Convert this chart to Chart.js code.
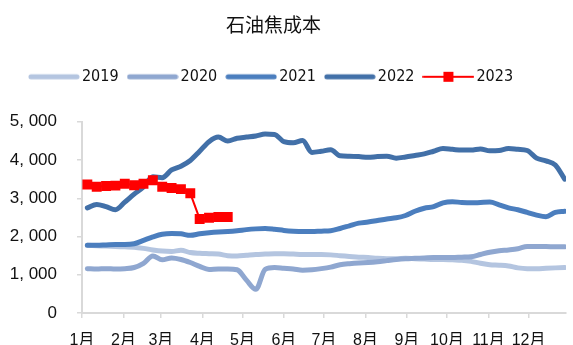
<!DOCTYPE html>
<html>
<head>
<meta charset="utf-8">
<title>石油焦成本</title>
<script src="https://cdn.jsdelivr.net/npm/chart.js@4.4.0/dist/chart.umd.min.js"></script>
<style>
  html, body { margin: 0; padding: 0; background: #fff; }
</style>
</head>
<body>
<canvas id="cokeChart" width="573" height="345"></canvas>
<script>
// Month axis: tick positions are the first day of each month
const monthLabels = ['1月', '2月', '3月', '4月', '5月', '6月', '7月', '8月', '9月', '10月', '11月', '12月'];
const monthStartDays = [1, 32, 60, 91, 121, 152, 182, 213, 244, 274, 305, 335];

const yTicks = [0, 1000, 2000, 3000, 4000, 5000];
const yTickLabels = ['0', '1, 000', '2, 000', '3, 000', '4, 000', '5, 000'];

const years = ['2019', '2020', '2021', '2022', '2023'];

// Weekly petroleum coke cost, one array per year
const cost2019 = [1770, 1760, 1750, 1740, 1730, 1720, 1690, 1650, 1620, 1610,
                  1640, 1580, 1560, 1550, 1540, 1500, 1490, 1510, 1530, 1540,
                  1550, 1550, 1540, 1530, 1530, 1530, 1520, 1500, 1480, 1460,
                  1450, 1430, 1420, 1420, 1430, 1420, 1410, 1400, 1400, 1390,
                  1380, 1350, 1300, 1260, 1250, 1230, 1180, 1160, 1160, 1170,
                  1180, 1190];
const cost2020 = [1160, 1150, 1160, 1150, 1160, 1190, 1300, 1490, 1390, 1440,
                  1400, 1320, 1220, 1140, 1150, 1150, 1130, 860, 620, 1140,
                  1190, 1170, 1150, 1120, 1130, 1160, 1200, 1260, 1290, 1310,
                  1320, 1340, 1370, 1400, 1420, 1430, 1440, 1450, 1450, 1450,
                  1460, 1470, 1530, 1590, 1630, 1650, 1680, 1740, 1740, 1740,
                  1730, 1730];
const cost2021 = [1770, 1770, 1780, 1790, 1790, 1810, 1900, 1990, 2060, 2080,
                  2070, 2030, 2070, 2100, 2120, 2130, 2150, 2180, 2200, 2210,
                  2190, 2160, 2140, 2130, 2130, 2140, 2150, 2210, 2280, 2350,
                  2380, 2420, 2460, 2490, 2550, 2660, 2740, 2780, 2880, 2910,
                  2890, 2880, 2890, 2900, 2830, 2750, 2700, 2630, 2560, 2520,
                  2630, 2660];
const cost2022 = [2750, 2840, 2780, 2700, 2900, 3110, 3300, 3560, 3540, 3740,
                  3840, 3990, 4230, 4480, 4600, 4500, 4570, 4600, 4630, 4680,
                  4670, 4480, 4450, 4510, 4200, 4230, 4270, 4110, 4100, 4090,
                  4070, 4090, 4100, 4050, 4080, 4120, 4160, 4230, 4300, 4280,
                  4260, 4260, 4290, 4240, 4250, 4300, 4280, 4250, 4050, 3980,
                  3870, 3500];
const cost2023 = [3360, 3300, 3320, 3330, 3380, 3340, 3380, 3470, 3300, 3270,
                  3240, 3130, 2460, 2490, 2510, 2510];

const lineColors = ['#B4C5E0', '#8FA7D0', '#4B7EBE', '#4270A8', '#FF0000'];

// day of year for each weekly sample
const weekDays = Array.from({ length: 52 }, (_, i) => 5 + 7 * i);

function toPoints(values) {
    return values.map((v, i) => ({ x: weekDays[i], y: v }));
}

// Legend swatch: thick line for past years, thin line with a square for 2023
function makeSwatch(color, withMarker) {
    const c = document.createElement('canvas');
    c.width = 52;
    c.height = 12;
    const ctx = c.getContext('2d');
    ctx.strokeStyle = color;
    ctx.fillStyle = color;
    ctx.lineCap = 'round';
    ctx.beginPath();
    if (withMarker) {
        ctx.lineWidth = 2;
        ctx.moveTo(1, 6);
        ctx.lineTo(51, 6);
        ctx.stroke();
        ctx.fillRect(21, 1, 10, 10);
    } else {
        ctx.lineWidth = 5;
        ctx.moveTo(3, 6);
        ctx.lineTo(49, 6);
        ctx.stroke();
    }
    return c;
}

const swatches = lineColors.map((c, i) => makeSwatch(c, i === 4));

const datasets = [cost2019, cost2020, cost2021, cost2022].map((values, i) => ({
    label: years[i],
    data: toPoints(values),
    borderColor: lineColors[i],
    backgroundColor: lineColors[i],
    borderWidth: 5,
    pointRadius: 0,
    cubicInterpolationMode: 'monotone',
    borderCapStyle: 'round',
    borderJoinStyle: 'round',
    order: 4 - i // newer years drawn on top
}));

datasets.push({
    label: years[4],
    data: toPoints(cost2023),
    borderColor: lineColors[4],
    backgroundColor: lineColors[4],
    borderWidth: 2,
    pointStyle: 'rect',
    pointRadius: 7,
    pointBorderWidth: 0,
    tension: 0,
    order: 0
});

// push the plot down a bit below the legend row
const legendGap = {
    id: 'legendGap',
    beforeInit(chart) {
        const fit = chart.legend.fit;
        chart.legend.fit = function () {
            fit.call(this);
            this.height += 27;
        };
    }
};

const axisGray = '#D9D9D9';
const tickFont = { family: "'Liberation Sans', 'Noto Sans CJK SC', sans-serif", size: 16 };

new Chart(document.getElementById('cokeChart'), {
    type: 'line',
    data: { datasets },
    plugins: [legendGap],
    options: {
        responsive: false,
        animation: false,
        layout: { padding: { left: -26, top: 0, right: 0, bottom: 0 } },
        plugins: {
            title: {
                display: true,
                text: '石油焦成本',
                color: '#111',
                font: { family: "'Noto Sans CJK SC', sans-serif", size: 19, weight: 'normal' },
                padding: { top: 13, bottom: 19 }
            },
            legend: {
                display: true,
                position: 'top',
                labels: {
                    usePointStyle: true,
                    pointStyleWidth: 40,
                    padding: 14,
                    color: '#111',
                    font: { family: "'Liberation Sans Narrow', 'DejaVu Sans Condensed', sans-serif", size: 16 },
                    generateLabels(chart) {
                        const items = Chart.defaults.plugins.legend.labels.generateLabels(chart);
                        items.forEach(item => { item.pointStyle = swatches[item.datasetIndex]; });
                        return items.sort((a, b) => a.datasetIndex - b.datasetIndex);
                    }
                }
            },
            tooltip: { enabled: false }
        },
        scales: {
            x: {
                type: 'linear',
                min: 1,
                max: 363,
                afterBuildTicks(scale) {
                    scale.ticks = monthStartDays.map(d => ({ value: d }));
                },
                afterFit(scale) {
                    scale.height = 32;
                },
                ticks: {
                    autoSkip: false,
                    maxRotation: 0,
                    padding: 13,
                    color: '#111',
                    font: tickFont,
                    callback: (value, index) => monthLabels[index]
                },
                grid: { drawOnChartArea: false, drawTicks: true, tickLength: 5, color: axisGray, lineWidth: 1.5 },
                border: { display: true, color: axisGray, width: 2 }
            },
            y: {
                min: 0,
                max: 5000,
                afterBuildTicks(scale) {
                    scale.ticks = yTicks.map(v => ({ value: v }));
                },
                afterFit(scale) {
                    scale.width = 108;
                },
                ticks: {
                    padding: 20,
                    color: '#111',
                    font: { family: "'Liberation Sans', sans-serif", size: 17 },
                    callback: value => yTickLabels[yTicks.indexOf(value)]
                },
                grid: { drawOnChartArea: false, drawTicks: true, tickLength: 5, color: axisGray, lineWidth: 1.5 },
                border: { display: true, color: axisGray, width: 2 }
            }
        }
    }
});
</script>
</body>
</html>
